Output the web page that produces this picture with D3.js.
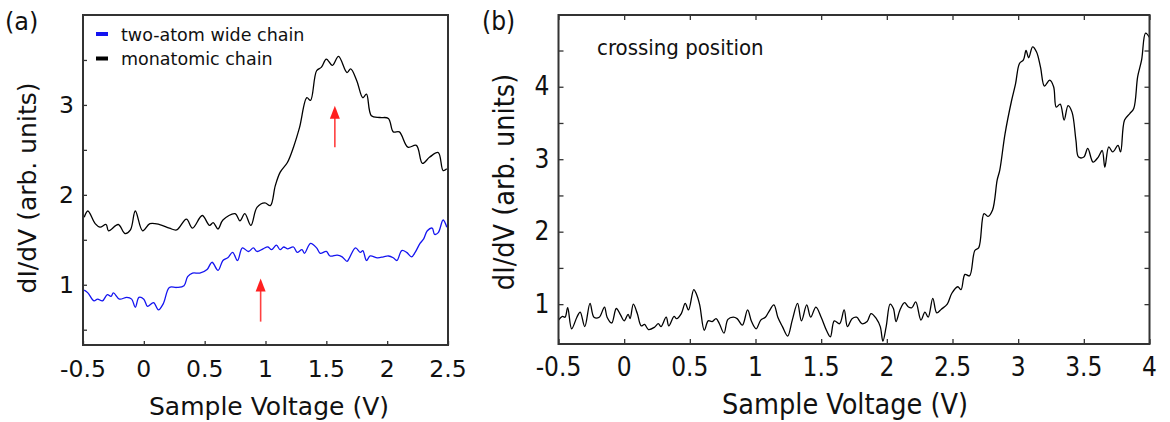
<!DOCTYPE html>
<html>
<head>
<meta charset="utf-8">
<script src="https://cdn.jsdelivr.net/npm/d3@7"></script>
<style>
  body { margin: 0; background: #fff; }
  svg text { font-family: "DejaVu Sans", Verdana, sans-serif; fill: #111; }
  .b text { font-family: "DejaVu Sans Condensed", "DejaVu Sans", sans-serif; font-stretch: condensed; }
</style>
</head>
<body>
<div id="chart"></div>
<script>
// panel (a): monatomic chain (black)
var monoV = [-0.49,-0.46,-0.40,-0.36,-0.31,-0.29,-0.21,-0.155,-0.11,-0.07,-0.01,0.05,0.13,0.21,0.27,0.35,0.40,0.48,0.54,0.57,0.61,0.65,0.75,0.79,0.83,0.88,0.93,0.995,1.04,1.08,1.12,1.18,1.23,1.28,1.34,1.37,1.42,1.46,1.50,1.55,1.60,1.67,1.70,1.75,1.80,1.83,1.87,1.94,2.01,2.05,2.10,2.17,2.24,2.29,2.35,2.42,2.46,2.49];
var monoY = [1.75,1.82,1.68,1.64,1.67,1.60,1.67,1.57,1.61,1.82,1.60,1.68,1.67,1.63,1.61,1.73,1.63,1.77,1.66,1.69,1.62,1.72,1.79,1.71,1.79,1.66,1.86,1.91,1.88,2.10,2.25,2.36,2.53,2.75,3.08,3.05,3.38,3.42,3.51,3.44,3.54,3.36,3.40,3.27,3.08,3.12,2.88,2.86,2.85,2.70,2.70,2.53,2.55,2.35,2.42,2.47,2.27,2.29];

// panel (a): two-atom wide chain (blue)
var wideV = [-0.49,-0.46,-0.41,-0.38,-0.34,-0.30,-0.27,-0.25,-0.20,-0.14,-0.10,-0.07,-0.04,0.00,0.03,0.08,0.12,0.16,0.21,0.27,0.33,0.36,0.40,0.46,0.52,0.56,0.61,0.65,0.69,0.73,0.77,0.81,0.86,0.90,0.93,0.98,1.02,1.05,1.09,1.12,1.15,1.18,1.23,1.26,1.30,1.32,1.37,1.42,1.45,1.50,1.53,1.59,1.63,1.67,1.69,1.74,1.78,1.80,1.83,1.86,1.92,1.97,2.01,2.05,2.08,2.12,2.16,2.20,2.23,2.27,2.30,2.33,2.37,2.39,2.42,2.46,2.49];
var wideY = [0.94,0.91,0.82,0.84,0.82,0.89,0.87,0.91,0.84,0.86,0.84,0.75,0.86,0.84,0.76,0.80,0.72,0.79,0.97,0.97,0.99,1.09,1.13,1.13,1.17,1.25,1.16,1.27,1.30,1.36,1.27,1.41,1.37,1.41,1.37,1.40,1.42,1.39,1.44,1.39,1.42,1.40,1.42,1.36,1.39,1.35,1.46,1.41,1.35,1.37,1.32,1.33,1.31,1.26,1.30,1.41,1.36,1.38,1.27,1.32,1.30,1.31,1.32,1.30,1.27,1.38,1.36,1.31,1.36,1.46,1.51,1.60,1.63,1.56,1.58,1.72,1.64];

// panel (b): crossing position
var crossV = [-0.5,-0.47,-0.45,-0.43,-0.40,-0.36,-0.335,-0.30,-0.26,-0.23,-0.19,-0.15,-0.13,-0.095,-0.06,-0.03,0.0,0.03,0.045,0.07,0.10,0.13,0.155,0.185,0.23,0.26,0.28,0.32,0.34,0.38,0.40,0.435,0.465,0.49,0.53,0.55,0.575,0.61,0.64,0.67,0.70,0.725,0.76,0.79,0.83,0.86,0.90,0.94,0.97,1.005,1.04,1.075,1.10,1.14,1.17,1.205,1.245,1.28,1.32,1.35,1.39,1.42,1.46,1.50,1.54,1.57,1.60,1.64,1.675,1.70,1.735,1.77,1.81,1.85,1.88,1.92,1.95,1.97,1.995,2.025,2.05,2.07,2.10,2.135,2.165,2.19,2.22,2.26,2.29,2.315,2.35,2.38,2.415,2.46,2.495,2.54,2.565,2.595,2.63,2.67,2.70,2.74,2.77,2.805,2.84,2.86,2.90,2.95,2.98,3.01,3.04,3.06,3.08,3.11,3.14,3.17,3.20,3.24,3.27,3.29,3.32,3.35,3.38,3.41,3.44,3.46,3.50,3.53,3.57,3.61,3.64,3.66,3.69,3.72,3.76,3.78,3.81,3.85,3.88,3.91,3.94,3.97,4.0];
var crossY = [0.78,0.83,0.82,0.95,0.66,0.82,0.89,0.69,1.01,0.82,0.82,0.96,0.82,0.74,0.94,0.86,0.77,0.86,0.80,1.00,0.87,0.70,0.72,0.65,0.68,0.73,0.69,0.82,0.70,0.83,0.80,0.87,1.01,0.92,1.20,1.14,0.99,0.64,0.77,0.76,0.80,0.73,0.60,0.79,0.82,0.80,0.71,0.92,0.76,0.66,0.78,0.82,0.89,0.99,0.82,0.69,0.56,0.78,1.01,0.77,0.99,0.82,0.96,0.82,0.64,0.55,0.77,0.73,0.92,0.69,0.80,0.82,0.73,0.76,0.87,0.80,0.69,0.49,0.69,1.00,0.94,0.76,0.92,1.02,0.96,0.95,1.03,0.78,0.89,0.82,1.08,0.88,0.93,1.00,1.15,1.24,1.20,1.41,1.39,1.74,1.78,2.25,2.21,2.30,2.71,2.85,3.35,3.81,4.04,4.32,4.37,4.50,4.40,4.55,4.48,4.27,4.01,4.09,4.00,3.72,3.76,3.54,3.74,3.65,3.26,3.03,3.03,3.15,2.96,3.03,3.12,2.89,3.17,3.10,3.19,3.10,3.54,3.63,3.70,4.14,4.37,4.74,4.68];

var xTicksA = [-0.5, 0, 0.5, 1, 1.5, 2, 2.5];
var yTicksA = [0.5, 1, 1.5, 2, 2.5, 3, 3.5];
var yLabelsA = [1, 2, 3];
var xTicksB = [-0.5, 0, 0.5, 1, 1.5, 2, 2.5, 3, 3.5, 4];
var yTicksB = [1, 1.5, 2, 2.5, 3, 3.5, 4, 4.5];
var yLabelsB = [1, 2, 3, 4];

var legendItems = [["two-atom wide chain", "#1414f0"], ["monatomic chain", "#000"]];

var svg = d3.select("#chart").append("svg")
    .attr("width", 1170)
    .attr("height", 422);

var fmt = function (d) { return String(d); };

function panel(opt) {
    var g = svg.append("g").attr("class", opt.cls);
    var x = d3.scaleLinear().domain(opt.xDomain).range([opt.left, opt.right]);
    var y = d3.scaleLinear().domain(opt.yDomain).range([opt.bottom, opt.top]);
    var tk = opt.tick;

    // curves
    opt.series.forEach(function (s) {
        var line = d3.line()
            .x(function (d) { return x(d[0]); })
            .y(function (d) { return y(d[1]); })
            .curve(d3.curveCatmullRom.alpha(0.5));
        g.append("path")
            .datum(d3.zip(s.v, s.y))
            .attr("fill", "none")
            .attr("stroke", s.color)
            .attr("stroke-width", 1.3)
            .attr("d", line);
    });

    // inward ticks
    g.append("g")
        .attr("transform", "translate(0," + opt.bottom + ")")
        .call(d3.axisBottom(x).tickValues(opt.xTicks).tickSize(-tk).tickFormat(""))
        .call(function (a) { a.select(".domain").remove(); });
    g.append("g")
        .attr("transform", "translate(" + opt.left + ",0)")
        .call(d3.axisLeft(y).tickValues(opt.yTicks).tickSize(-tk).tickFormat(""))
        .call(function (a) { a.select(".domain").remove(); });
    if (opt.allSides) {
        g.append("g")
            .attr("transform", "translate(0," + opt.top + ")")
            .call(d3.axisTop(x).tickValues(opt.xTicks).tickSize(-tk).tickFormat(""))
            .call(function (a) { a.select(".domain").remove(); });
        g.append("g")
            .attr("transform", "translate(" + opt.right + ",0)")
            .call(d3.axisRight(y).tickValues(opt.yTicks).tickSize(-tk).tickFormat(""))
            .call(function (a) { a.select(".domain").remove(); });
    }
    g.selectAll(".tick line").attr("stroke", "#333").attr("stroke-width", 1.3);

    // frame
    g.append("rect")
        .attr("x", opt.left).attr("y", opt.top)
        .attr("width", opt.right - opt.left).attr("height", opt.bottom - opt.top)
        .attr("fill", "none").attr("stroke", "#333").attr("stroke-width", 2);

    // tick labels
    g.selectAll(".xl").data(opt.xTicks).enter().append("text")
        .attr("x", function (d) { return x(d); })
        .attr("y", opt.bottom + 32)
        .attr("text-anchor", "middle")
        .style("font-size", opt.fs + "px")
        .text(fmt);
    g.selectAll(".yl").data(opt.yLabels).enter().append("text")
        .attr("x", opt.left - 9)
        .attr("y", function (d) { return y(d) + 8.5; })
        .attr("text-anchor", "end")
        .style("font-size", opt.fs + "px")
        .text(fmt);

    // axis titles
    g.append("text")
        .attr("x", opt.titleX)
        .attr("y", opt.bottom + 70)
        .attr("text-anchor", "middle")
        .style("font-size", opt.tfs + "px")
        .text("Sample Voltage (V)");
    g.append("text")
        .attr("transform", "translate(" + opt.yTitleX + "," + opt.yTitleY + ") rotate(-90)")
        .attr("text-anchor", "middle")
        .style("font-size", opt.tfs + "px")
        .text("dI/dV (arb. units)");

    g.append("text")
        .attr("x", opt.tagX).attr("y", 30)
        .style("font-size", opt.tagFs + "px")
        .text(opt.tag);

    return { g: g, x: x, y: y };
}

var pa = panel({
    cls: "a", left: 83, right: 448, top: 15, bottom: 345,
    xDomain: [-0.5, 2.5], yDomain: [0.33, 4.0],
    xTicks: xTicksA, yTicks: yTicksA, yLabels: yLabelsA,
    tick: 4, allSides: false, fs: 23.5, tfs: 25, titleX: 269, yTitleX: 36, yTitleY: 188,
    tagX: 5, tag: "(a)", tagFs: 24,
    series: [
        { v: monoV, y: monoY, color: "#000" },
        { v: wideV, y: wideY, color: "#1414f0" }
    ]
});

var pb = panel({
    cls: "b", left: 558.5, right: 1149.5, top: 15, bottom: 344,
    xDomain: [-0.5, 4], yDomain: [0.45, 4.99],
    xTicks: xTicksB, yTicks: yTicksB, yLabels: yLabelsB,
    tick: 5, allSides: true, fs: 26, tfs: 28.5, titleX: 845, yTitleX: 514, yTitleY: 182,
    tagX: 482, tag: "(b)", tagFs: 26,
    series: [{ v: crossV, y: crossY, color: "#000" }]
});

// red arrows in (a)
var arrowsV = [1.57, 0.96];
var arrowsTail = [2.53, 0.59];
var arrowsTip = [2.99, 1.07];
arrowsV.forEach(function (v, i) {
    var ax = pa.x(v), y0 = pa.y(arrowsTail[i]), y1 = pa.y(arrowsTip[i]);
    pa.g.append("line")
        .attr("x1", ax).attr("x2", ax).attr("y1", y0).attr("y2", y1 + 10)
        .attr("stroke", "#ff4040").attr("stroke-width", 1.6);
    pa.g.append("path")
        .attr("d", "M" + ax + "," + y1 + "L" + (ax - 5) + "," + (y1 + 13) + "L" + (ax + 5) + "," + (y1 + 13) + "Z")
        .attr("fill", "#ff2020");
});

// legend in (a)
var leg = pa.g.selectAll(".leg").data(legendItems).enter().append("g")
    .attr("transform", function (d, i) { return "translate(96," + (34 + i * 24.5) + ")"; });
leg.append("line").attr("x1", 0).attr("x2", 12).attr("y1", 0).attr("y2", 0)
    .attr("stroke", function (d) { return d[1]; }).attr("stroke-width", 4);
leg.append("text").attr("x", 25).attr("y", 6.5)
    .style("font-size", "17.5px")
    .text(function (d) { return d[0]; });

// annotation in (b)
pb.g.append("text")
    .attr("x", 597).attr("y", 55)
    .style("font-size", "22px")
    .text("crossing position");
</script>
</body>
</html>
